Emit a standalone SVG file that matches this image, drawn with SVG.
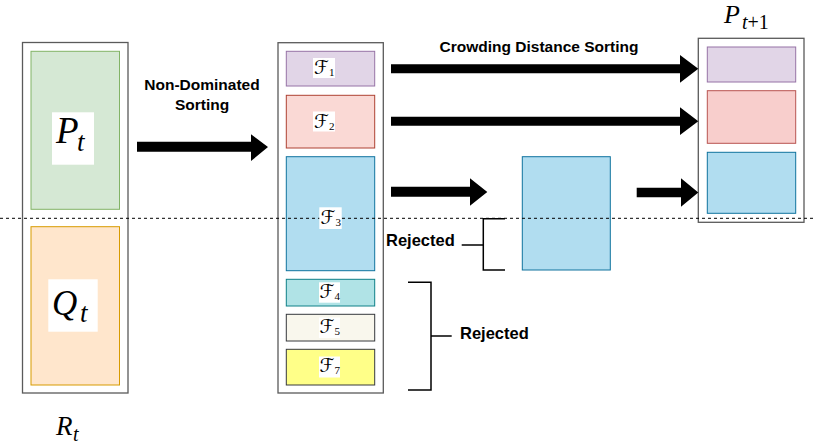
<svg xmlns="http://www.w3.org/2000/svg" width="816" height="445" viewBox="0 0 816 445">
<style>
.outer{fill:#fff;stroke:#5a5a5a;stroke-width:1.3}
.lbl{font-family:"Liberation Sans",Arial,sans-serif;font-weight:bold;fill:#000}
.math{font-family:"Liberation Serif","DejaVu Serif",serif;font-style:italic;fill:#000}
.scr{font-family:"DejaVu Serif","DejaVu Sans",serif;fill:#000;font-size:19px}
.sub{font-family:"Liberation Serif","DejaVu Serif",serif;fill:#000;font-size:11px}
.wb{fill:#fff}
.br{fill:none;stroke:#000;stroke-width:1.5}
.arr{fill:#000}
</style>
<rect width="816" height="445" fill="#fff"/>

<g id="Rt">
<rect class="outer" x="22.5" y="42.5" width="105.5" height="350.5"/>
<text class="math" x="56" y="435" font-size="27">R</text>
<text class="math" x="73" y="441" font-size="20">t</text>
</g>
<g id="Pt">
<rect x="31" y="51.3" width="88.5" height="158" fill="#d5e8d4" stroke="#82b366"/>
<rect class="wb" x="52" y="112.3" width="42" height="52.4"/>
<text class="math" x="56" y="143" font-size="37">P</text>
<text class="math" x="77" y="151" font-size="27">t</text>
</g>
<g id="Qt">
<rect x="31" y="226.7" width="88.5" height="158.3" fill="#ffe6cc" stroke="#d79b00"/>
<rect class="wb" x="48.3" y="279.3" width="49.4" height="52.4"/>
<text class="math" x="52" y="315" font-size="35">Q</text>
<text class="math" x="80" y="322" font-size="27">t</text>
</g>

<g id="fronts">
<rect class="outer" x="278" y="42.7" width="105.3" height="350.3"/>
</g>
<g id="F1">
<rect x="286.3" y="51.3" width="88.4" height="34.7" fill="#e1d5e7" stroke="#9673a6"/>
</g>
<g id="F2">
<rect x="286.3" y="95.3" width="88.4" height="52.7" fill="#fad9d5" stroke="#ae4132"/>
</g>
<g id="F3">
<rect x="286.3" y="156.7" width="88.4" height="114" fill="#b1ddf0" stroke="#10739e"/>
</g>
<g id="F4">
<rect x="286.3" y="279.3" width="88.4" height="26.7" fill="#b0e3e6" stroke="#0e8088"/>
</g>
<g id="F5">
<rect x="286.3" y="314.3" width="88.4" height="26.7" fill="#f9f7ed" stroke="#36393d"/>
</g>
<g id="F7">
<rect x="286.3" y="349.3" width="88.4" height="35.7" fill="#ffff88" stroke="#36393d"/>
</g>

<g id="F3-cut">
<rect x="522.3" y="156.7" width="88" height="113.3" fill="#b1ddf0" stroke="#10739e"/>
</g>

<g id="Pt1">
<rect class="outer" x="698.3" y="38.3" width="105.7" height="184"/>
<rect x="707.3" y="47" width="88.4" height="35" fill="#e1d5e7" stroke="#9673a6"/>
<rect x="707.3" y="90.7" width="88.4" height="52.6" fill="#f8cecc" stroke="#b85450"/>
<rect x="707.3" y="152.3" width="88.4" height="61" fill="#b1ddf0" stroke="#10739e"/>
<text class="math" x="724" y="23" font-size="26">P</text>
<text x="742" y="29" font-size="20" font-family="'Liberation Serif','DejaVu Serif',serif"><tspan font-style="italic">t</tspan>+1</text>
</g>

<line x1="0" y1="218.3" x2="816" y2="218.3" stroke="#000" stroke-width="1" stroke-dasharray="3,3"/>

<g id="flabels">
<rect class="wb" x="313" y="58" width="22" height="20"/>
<text x="314" y="74"><tspan class="scr">ℱ</tspan><tspan class="sub" dy="2">1</tspan></text>
<rect class="wb" x="313" y="111.5" width="22" height="20"/>
<text x="314" y="127.5"><tspan class="scr">ℱ</tspan><tspan class="sub" dy="2">2</tspan></text>
<rect class="wb" x="319.3" y="207.3" width="22.4" height="21.7"/>
<text x="320.5" y="224"><tspan class="scr">ℱ</tspan><tspan class="sub" dy="2">3</tspan></text>
<rect class="wb" x="319" y="282.3" width="21" height="20.4"/>
<text x="319.5" y="297.5"><tspan class="scr">ℱ</tspan><tspan class="sub" dy="2">4</tspan></text>
<rect class="wb" x="319" y="317.5" width="21" height="20.4"/>
<text x="319.5" y="332.5"><tspan class="scr">ℱ</tspan><tspan class="sub" dy="2">5</tspan></text>
<rect class="wb" x="319" y="356.5" width="21" height="21"/>
<text x="319.5" y="372"><tspan class="scr">ℱ</tspan><tspan class="sub" dy="2">7</tspan></text>
</g>

<g id="connectors">
<polygon class="arr" points="137,141.7 251,141.7 251,134.3 268,147 251,161 251,151.7 137,151.7"/>
<polygon class="arr" points="391,64.3 680,64.3 680,55 698.3,68.8 680,82.7 680,73.3 391,73.3"/>
<polygon class="arr" points="391,116.7 680,116.7 680,107.3 698.3,121.2 680,135 680,125.7 391,125.7"/>
<polygon class="arr" points="391,186.7 470,186.7 470,178.3 487.3,192 470,205.7 470,196.7 391,196.7"/>
<polygon class="arr" points="636.7,187.7 681,187.7 681,178.3 698.3,192.5 681,206.7 681,197.3 636.7,197.3"/>
<polyline class="br" points="505,218.7 483.3,218.7 483.3,270 505,270"/>
<line class="br" x1="461.7" y1="245" x2="483.3" y2="245"/>
<polyline class="br" points="408,282.3 431,282.3 431,390 408,390"/>
<line class="br" x1="431" y1="336" x2="451.7" y2="336"/>
</g>

<g id="texts">
<text class="lbl" x="202" y="90" font-size="15.5" text-anchor="middle">Non-Dominated</text>
<text class="lbl" x="202" y="110" font-size="15.5" text-anchor="middle">Sorting</text>
<text class="lbl" x="539" y="51.5" font-size="15.5" text-anchor="middle">Crowding Distance Sorting</text>
<text class="lbl" x="386" y="246" font-size="16.5">Rejected</text>
<text class="lbl" x="460" y="339" font-size="16.5">Rejected</text>
</g>
</svg>
